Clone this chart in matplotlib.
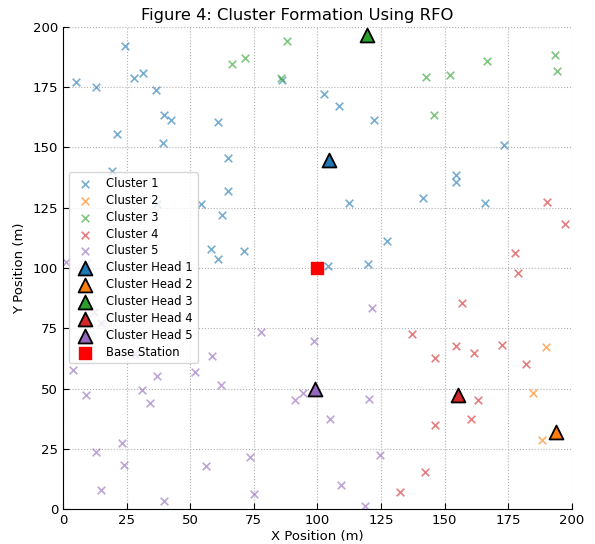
import matplotlib.pyplot as plt
import numpy as np

# node positions per cluster (m)
c1_x = [5, 13, 24.5, 27.7, 31.3, 36.6, 39.8, 42.5, 21.3, 39.1, 19.4, 60.8, 65, 65, 54.3, 62.4,
        58.2, 60.8, 71.3, 86.2, 36.8, 102.7, 108.6, 122.4, 173.5, 154.4, 154.4, 141.5, 165.9,
        112.3, 127.5, 119.7, 104.2]
c1_y = [177, 175, 192, 178.7, 180.9, 173.9, 163.3, 161.2, 155.7, 151.9, 140.3, 160.4, 145.4,
        131.8, 126.4, 121.8, 107.7, 103.7, 107.0, 178.0, 126.6, 172.0, 167.0, 161.5, 151.1,
        138.4, 135.6, 129.1, 126.8, 126.8, 111.3, 101.8, 100.6]

c2_x = [189.7, 184.6, 188.2]
c2_y = [67.4, 48.3, 28.8]

c3_x = [66.3, 71.7, 88.2, 85.7, 142.6, 152.3, 166.7, 193.4, 194.2, 145.9]
c3_y = [184.4, 186.9, 193.9, 178.9, 179.1, 179.8, 185.6, 188.4, 181.5, 163.3]

c4_x = [190.4, 197.4, 177.7, 179, 157, 137.0, 154.3, 146.3, 161.7, 172.6, 181.9, 163.3, 160.4,
        146.3, 142.1, 132.4]
c4_y = [127.3, 118.4, 106.2, 97.8, 85.3, 72.6, 67.8, 62.8, 64.6, 68.1, 60.1, 45.1, 37.2, 34.9,
        15.4, 7.2]

c5_x = [121.6, 98.7, 120.3, 104.8, 124.6, 109.4, 118.6, 1.2, 9.4, 4.1, 9.0, 12.0, 15.0, 28.1,
        31.1, 34.0, 37.0, 51.9, 58.7, 62.1, 77.8, 91.2, 94.3, 23.2, 23.8, 12.8, 14.9, 39.5,
        56.1, 73.4, 75.0]
c5_y = [83.2, 69.7, 45.7, 37.2, 22.5, 10.0, 1.4, 102.3, 102.2, 57.8, 47.5, 81.9, 77.3, 64.2,
        49.6, 44.2, 55.4, 56.8, 63.5, 51.5, 73.3, 45.4, 48.3, 27.4, 18.5, 23.9, 8.1, 3.3,
        17.9, 21.8, 6.3]

head_x = [104.6, 193.9, 119.6, 155.2, 99.0]
head_y = [144.6, 31.8, 196.7, 47.5, 50.0]

base_x, base_y = 100, 100

clusters = [(c1_x, c1_y), (c2_x, c2_y), (c3_x, c3_y), (c4_x, c4_y), (c5_x, c5_y)]
colors = plt.get_cmap('tab10').colors

fig = plt.figure(figsize=(5.95, 5.44), dpi=100)
ax = fig.add_axes([0.106, 0.064, 0.855, 0.887])

for i, (xs, ys) in enumerate(clusters):
    ax.scatter(xs, ys, marker='x', color=colors[i], alpha=0.6, s=30, linewidths=1.2,
               label='Cluster ' + str(i + 1), zorder=2)

for i in range(5):
    ax.scatter(head_x[i], head_y[i], marker='^', color=colors[i], edgecolors='black',
               linewidths=1.3, s=100, label='Cluster Head ' + str(i + 1), zorder=3)

ax.scatter(base_x, base_y, marker='s', color='red', s=85, label='Base Station', zorder=3)

ax.set_xlim(0, 200)
ax.set_ylim(0, 200)
ax.set_xticks(np.arange(0, 201, 25))
ax.set_yticks(np.arange(0, 201, 25))
ax.tick_params(direction='in', labelsize=9.5, length=4)
ax.spines['top'].set_visible(False)
ax.spines['right'].set_visible(False)
ax.grid(True, linestyle=':', color='#b0b0b0', linewidth=0.8)

fig.suptitle('Figure 4: Cluster Formation Using RFO', fontsize=11.8, x=0.5, y=0.985)
ax.set_xlabel('X Position (m)', fontsize=9.5, labelpad=2)
ax.set_ylabel('Y Position (m)', fontsize=9.5, labelpad=5)

ax.legend(loc='upper left', bbox_to_anchor=(0.0, 0.71), fontsize=8.4, framealpha=0.8,
          handletextpad=0.8, labelspacing=0.33, borderpad=0.4)

plt.savefig('out.png', dpi=100)
